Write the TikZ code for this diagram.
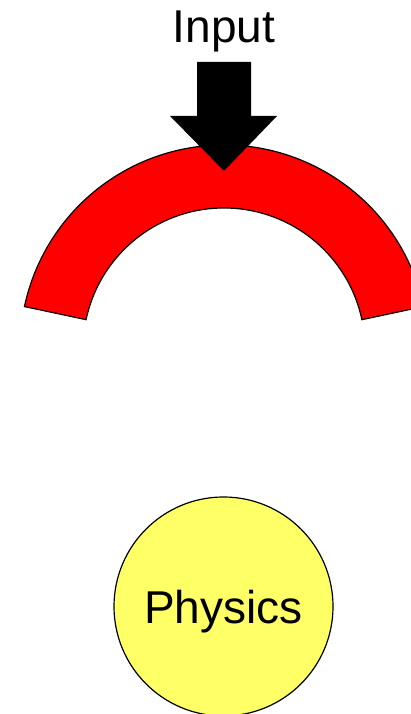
\documentclass[tikz,border=0pt]{standalone}
\usepackage{fontspec}
\setmainfont{Liberation Sans}
\usetikzlibrary{positioning}
\definecolor{ArcRed}{HTML}{FF0000}
\definecolor{PhysYellow}{HTML}{FFFF66}

\begin{document}
\begin{tikzpicture}[
        x=1pt, y=1pt,
        title/.style={font=\fontsize{46}{50}\selectfont, inner sep=0pt, anchor=base},
        ring/.style={fill=ArcRed, draw=black, line width=1.2pt},
        block/.style={fill=black},
        blob/.style={
            circle, draw=black, fill=PhysYellow, line width=1.2pt,
            minimum size=219pt, inner sep=0pt, text depth=0pt,
            font=\fontsize{46}{50}\selectfont
        }
    ]
        \useasboundingbox (0,0) rectangle (410,714);
        \coordinate (ctr) at (224,365);
        \coordinate (tip) at (224,543);

        \draw[ring] ([shift={(12:204)}]ctr) arc[start angle=12, end angle=168, radius=204]
            -- ([shift={(168:141)}]ctr) arc[start angle=168, end angle=12, radius=141] -- cycle;
        \fill[block] (tip) -- ++(53,55) -- ++(-26,0) -- ++(0,54) -- ++(-54,0)
            -- ++(0,-54) -- ++(-27,0) -- cycle;
        \node[title] (input) at (224,671) {Input};
        \node[blob] (physics) at (223.5,107.5) {Physics};
    \end{tikzpicture}
\end{document}
